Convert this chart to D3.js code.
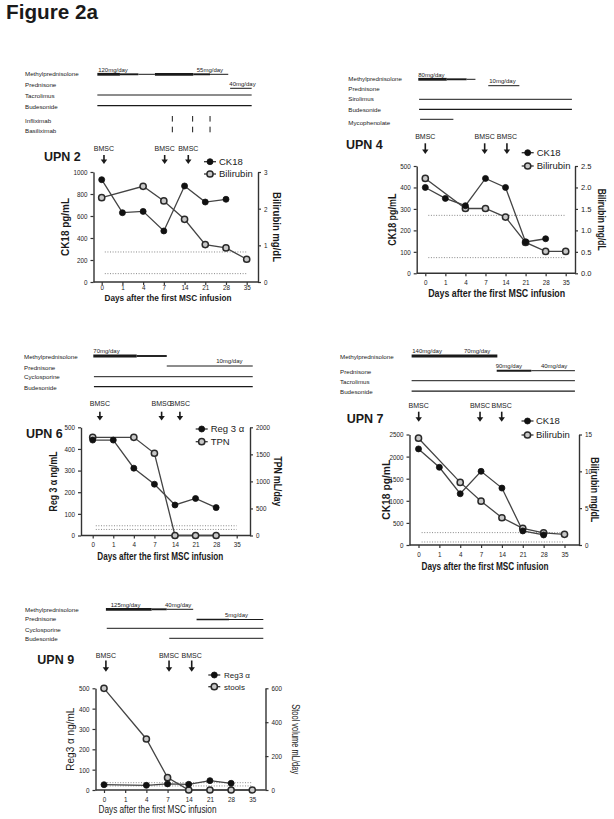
<!DOCTYPE html>
<html><head><meta charset="utf-8">
<script src="https://cdn.jsdelivr.net/npm/d3@7/dist/d3.min.js"></script>
<style>body{margin:0;background:#fff} svg{display:block;font-family:"Liberation Sans",Arial,sans-serif}</style>
</head><body><svg id="c" width="614" height="819"></svg>
<script>
// ---------- shared categories ----------
const days = ["0","1","4","7","14","21","28","35"];

// ---------- UPN 2 ----------
const upn2CK18 = [930, 630, 642, 464, 873, 727, 752, null];
const upn2Bilirubin = [2.3, null, 2.61, 2.21, 1.71, 1.02, 0.93, 0.62];
const upn2Normal = [273, 76];
const upn2LeftTicks = [0, 200, 400, 600, 800, 1000];
const upn2RightTicks = [0, 1, 2, 3];
const upn2Drugs = ["Methylprednisolone", "Prednisone", "Tacrolimus", "Budesonide", "Infliximab", "Basiliximab"];
// [row, fromDayIndex, toDayIndex, doseLevel]
const upn2Bars = [[0,-0.21,0.88,3],[0,0.88,1.77,2],[0,1.77,2.57,1],[0,2.57,4.42,3],[0,4.42,5.23,2],[0,5.23,6.11,1],[1,6.2,7.24,1],[2,-0.21,7.24,1],[3,-0.21,7.24,1.3]];
const upn2Doses = [[0,-0.17,"120mg/day"],[0,4.59,"55mg/day"],[1,6.16,"40mg/day"]];
const upn2Marks = [[4,3.41],[4,4.39],[4,5.23],[5,3.41],[5,4.39],[5,5.23]];
const upn2BMSC = [0.11, 3.04, 4.18];

// ---------- UPN 4 ----------
const upn4CK18 = [400, 349, 315, 442, 400, 146, 161, null];
const upn4Bilirubin = [2.21, null, 1.51, 1.51, 1.31, 0.72, 0.51, 0.51];
const upn4Normal = [270, 73];
const upn4LeftTicks = [0, 100, 200, 300, 400, 500];
const upn4RightTicks = [0, 0.5, 1, 1.5, 2, 2.5];
const upn4Drugs = ["Methylprednisolone", "Prednisone", "Sirolimus", "Budesonide", "Mycophenolate"];
const upn4Bars = [[0,-0.35,1.07,3],[0,1.07,2.06,2],[0,2.06,2.5,1],[1,3.14,4.69,1],[2,-0.31,7.31,1],[3,-0.31,7.31,1.3],[4,-0.26,1.4,1]];
const upn4Doses = [[0,-0.35,"80mg/day"],[1,3.19,"10mg/day"]];
const upn4BMSC = [0.0, 2.96, 4.07];

// ---------- UPN 6 ----------
const upn6Reg3 = [441, 441, 311, 237, 141, 171, 129, null];
const upn6TPN = [1815, null, 1815, 1520, 0, 0, 0, null];
const upn6Normal = [45, 28];
const upn6LeftTicks = [0, 100, 200, 300, 400, 500];
const upn6RightTicks = [0, 500, 1000, 1500, 2000];
const upn6Drugs = ["Methylprednisolone", "Prednisone", "Cyclosporine", "Budesonide"];
const upn6Bars = [[0,0.03,2.14,3],[0,2.14,3.6,2],[1,3.6,7.78,1],[2,0.06,7.78,1],[3,0.06,7.78,1.3]];
const upn6Doses = [[0,0.03,"70mg/day"],[1,6.0,"10mg/day"]];
const upn6BMSC = [0.35, 3.35, 4.24];

// ---------- UPN 7 ----------
const upn7CK18 = [2174, 1758, 1159, 1667, 1288, 318, 227, null];
const upn7Bilirubin = [14.5, null, 8.5, 5.95, 3.7, 2.27, 1.64, 1.45];
const upn7Normal = [280, 68];
const upn7LeftTicks = [0, 500, 1000, 1500, 2000, 2500];
const upn7RightTicks = [0, 5, 10, 15];
const upn7Drugs = ["Methylprednisolone", "Prednisone", "Tacrolimus", "Budesonide"];
const upn7Bars = [[0,-0.33,3.78,3],[1,3.75,5.41,2],[1,5.41,7.5,1],[2,-0.33,7.5,1],[3,-0.33,7.5,1.3]];
const upn7Doses = [[0,-0.3,"140mg/day"],[0,2.18,"70mg/day"],[1,3.7,"90mg/day"],[1,5.87,"40mg/day"]];
const upn7BMSC = [0.01, 2.95, 3.99];

// ---------- UPN 9 ----------
const upn9Reg3 = [26, null, 23, 30, 28, 46, 33, null];
const upn9Stools = [600, null, 301, 73, 0, 0, 0, 0];
const upn9Normal = [36, 20];
const upn9LeftTicks = [0, 100, 200, 300, 400, 500];
const upn9RightTicks = [0, 200, 400, 600];
const upn9Drugs = ["Methylprednisolone", "Prednisone", "Cyclosporine", "Budesonide"];
const upn9Bars = [[0,0.09,2.25,3],[0,2.25,2.96,2],[0,2.96,4.21,1],[1,4.37,5.9,1.5],[1,5.9,7.52,1],[2,0.13,7.52,1],[3,3.08,7.52,1]];
const upn9Doses = [[0,0.32,"125mg/day"],[0,2.88,"40mg/day"],[1,5.71,"5mg/day"]];
const upn9BMSC = [0.09, 3.07, 4.14];

const xTitleText = "Days after the first MSC infusion";

const panels = [
 {name:"UPN 2", drugs:upn2Drugs, bars:upn2Bars, doses:upn2Doses, marks:upn2Marks, bmsc:upn2BMSC,
  s1:upn2CK18, s2:upn2Bilirubin, s1Name:"CK18", s2Name:"Bilirubin", normal:upn2Normal,
  leftTicks:upn2LeftTicks, rightTicks:upn2RightTicks, rightFmt:d3.format("d"),
  leftTitle:"CK18 pg/mL", rightTitle:"Bilirubin mg/dL", bold:true,
  L:{x0:101.7,x35:246.7,xL:93.5,xR:258,yT:172,yB:282,labelX:25,labelY:[74.3,85,96.3,106.7,120.7,131],
     barY:[74.3,88.3,95,105.7,118.8,129.5],lt:{x:65,len:58},rt:{x:276.7,len:70},xt:{cx:168,y:300.5,len:127,fs:9},
     bm:{ty:151,a0:155,a1:164},upn:{x:44,y:161},lg:{x:210,y1:161.7,y2:174,tx:219,fs:9.5},tickPad:0}},
 {name:"UPN 4", drugs:upn4Drugs, bars:upn4Bars, doses:upn4Doses, marks:[], bmsc:upn4BMSC,
  s1:upn4CK18, s2:upn4Bilirubin, s1Name:"CK18", s2Name:"Bilirubin", normal:upn4Normal,
  leftTicks:upn4LeftTicks, rightTicks:upn4RightTicks, rightFmt:d3.format(".1f"),
  leftTitle:"CK18 pg/mL", rightTitle:"Bilirubin mg/dL", bold:true,
  L:{x0:425.3,x35:565.7,xL:416.7,xR:575,yT:166,yB:273.3,labelX:348.3,labelY:[79,89.3,99.3,110,123.3],
     barY:[79.3,85.7,99.3,109.3,119.3],lt:{x:392.7,len:52},rt:{x:601.5,len:62},xt:{cx:496.7,y:297,len:137,fs:10},
     bm:{ty:139.3,a0:143.3,a1:154},upn:{x:346,y:149},lg:{x:527.7,y1:152.7,y2:166,tx:536.7,fs:9.5},tickPad:3.5}},
 {name:"UPN 6", drugs:upn6Drugs, bars:upn6Bars, doses:upn6Doses, marks:[], bmsc:upn6BMSC,
  s1:upn6Reg3, s2:upn6TPN, s1Name:"Reg 3 α", s2Name:"TPN", normal:upn6Normal,
  leftTicks:upn6LeftTicks, rightTicks:upn6RightTicks, rightFmt:d3.format("d"),
  leftTitle:"Reg 3 α ng/mL", rightTitle:"TPN mL/day", bold:true,
  L:{x0:92.7,x35:236.7,xL:81,xR:250,yT:427.3,yB:535.5,labelX:24,labelY:[357.3,367.7,377.3,388.3],
     barY:[356,366,376.7,386.7],lt:{x:53.3,len:60},rt:{x:277.5,len:50},xt:{cx:160.3,y:559.5,len:126,fs:10},
     bm:{ty:406,a0:411.7,a1:420.5},upn:{x:26,y:438.3},lg:{x:201.7,y1:429,y2:441.7,tx:210.7,fs:9.5},tickPad:3.5}},
 {name:"UPN 7", drugs:upn7Drugs, bars:upn7Bars, doses:upn7Doses, marks:[], bmsc:upn7BMSC,
  s1:upn7CK18, s2:upn7Bilirubin, s1Name:"CK18", s2Name:"Bilirubin", normal:upn7Normal,
  leftTicks:upn7LeftTicks, rightTicks:upn7RightTicks, rightFmt:d3.format("d"),
  leftTitle:"CK18 pg/mL", rightTitle:"Bilirubin mg/dL", bold:true,
  L:{x0:418.5,x35:564.5,xL:409.5,xR:579,yT:434.5,yB:545,labelX:340,labelY:[357.3,372.3,381.7,392],
     barY:[356,370.7,380.7,391],lt:{x:386,len:60},rt:{x:594,len:65},xt:{cx:485,y:569.5,len:127,fs:10},
     bm:{ty:408,a0:411.7,a1:421.7},upn:{x:346.7,y:423.3},lg:{x:527.5,y1:421,y2:435,tx:536,fs:9.5},tickPad:3.5}},
 {name:"UPN 9", drugs:upn9Drugs, bars:upn9Bars, doses:upn9Doses, marks:[], bmsc:upn9BMSC,
  s1:upn9Reg3, s2:upn9Stools, s1Name:"Reg3   α", s2Name:"stools", normal:upn9Normal,
  leftTicks:upn9LeftTicks, rightTicks:upn9RightTicks, rightFmt:d3.format("d"),
  leftTitle:"Reg3  α  ng/mL", rightTitle:"Stool volume mL/day", bold:false,
  L:{x0:104,x35:252.3,xL:95.5,xR:265.5,yT:688.3,yB:790,labelX:25,labelY:[610,619.3,630,639],
     barY:[609.3,619.5,628.3,638.3],lt:{x:70,len:63},rt:{x:295,len:70},xt:{cx:157.5,y:812.5,len:118,fs:10},
     bm:{ty:658.3,a0:660.5,a1:671.7},upn:{x:37.3,y:664},lg:{x:214.3,y1:675,y2:686.7,tx:224,fs:8},tickPad:4}}
];

const svg = d3.select("#c");
const INK = "#1a1a1a";
svg.append("text").attr("x",6).attr("y",19).attr("font-size",20).attr("font-weight","bold")
   .attr("fill",INK).attr("textLength",92).attr("lengthAdjust","spacingAndGlyphs").text("Figure 2a");

function styleAxis(sel){
  sel.select(".domain").attr("stroke","#333").attr("stroke-width",1.4);
  sel.selectAll(".tick line").attr("stroke","#333").attr("stroke-width",1.2);
  sel.selectAll(".tick text").attr("font-size",7.5).attr("fill","#222")
    .attr("font-family","'Liberation Sans',Arial,sans-serif")
    .each(function(){ const t=d3.select(this); t.attr("textLength", t.text().length*3.5).attr("lengthAdjust","spacingAndGlyphs"); });
  sel.attr("font-family",null).attr("font-size",null);
}

function drawPanel(P){
  const L = P.L;
  const g = svg.append("g");
  const x = d3.scalePoint().domain(days).range([L.x0, L.x35]);
  const idx = d3.scaleLinear().domain([0, days.length-1]).range([L.x0, L.x35]);
  const yL = d3.scaleLinear().domain([0, d3.max(P.leftTicks)]).range([L.yB, L.yT]);
  const yR = d3.scaleLinear().domain([0, d3.max(P.rightTicks)]).range([L.yB, L.yT]);

  // treatment rows
  g.selectAll("text.drug").data(P.drugs).join("text").attr("class","drug")
    .attr("x",L.labelX).attr("y",(d,i)=>L.labelY[i]+2).attr("font-size",6.2).attr("fill",INK).text(d=>d);
  const doseW = d => d>=3 ? 2.8 : d>=2 ? 1.9 : d>=1.5 ? 1.5 : d>=1.3 ? 1.25 : 1;
  g.selectAll("line.bar").data(P.bars).join("line").attr("class","bar")
    .attr("x1",d=>idx(d[1])).attr("x2",d=>idx(d[2]))
    .attr("y1",d=>L.barY[d[0]]).attr("y2",d=>L.barY[d[0]])
    .attr("stroke",INK).attr("stroke-width",d=>doseW(d[3]));
  g.selectAll("text.dose").data(P.doses).join("text").attr("class","dose")
    .attr("x",d=>idx(d[1])).attr("y",d=>L.barY[d[0]]-2.6).attr("font-size",6).attr("fill",INK).text(d=>d[2]);
  g.selectAll("line.mark").data(P.marks).join("line").attr("class","mark")
    .attr("x1",d=>idx(d[1])).attr("x2",d=>idx(d[1]))
    .attr("y1",d=>L.barY[d[0]]-2.8).attr("y2",d=>L.barY[d[0]]+2.8)
    .attr("stroke",INK).attr("stroke-width",1);

  // BMSC arrows
  const bm = g.selectAll("g.bm").data(P.bmsc).join("g").attr("class","bm")
    .attr("transform",d=>`translate(${idx(d)},0)`);
  bm.append("text").attr("y",L.bm.ty).attr("text-anchor","middle").attr("font-size",7).attr("fill",INK).text("BMSC");
  bm.append("line").attr("x1",0).attr("x2",0).attr("y1",L.bm.a0).attr("y2",L.bm.a1-3)
    .attr("stroke",INK).attr("stroke-width",1.6);
  bm.append("path").attr("d",`M-3.2,${L.bm.a1-4.5}L3.2,${L.bm.a1-4.5}L0,${L.bm.a1}Z`).attr("fill",INK);

  // UPN label
  g.append("text").attr("x",L.upn.x).attr("y",L.upn.y).attr("font-size",12.5).attr("font-weight","bold")
    .attr("fill",INK).text(P.name);

  // normal-range dotted lines
  g.selectAll("line.norm").data(P.normal).join("line").attr("class","norm")
    .attr("x1",idx(0.15)).attr("x2",idx(7.0)).attr("y1",d=>yL(d)).attr("y2",d=>yL(d))
    .attr("stroke","#888").attr("stroke-width",1).attr("stroke-dasharray","1,1.6");

  // axes
  const ax1 = g.append("g").attr("transform",`translate(${L.xL},0)`)
    .call(d3.axisLeft(yL).tickValues(P.leftTicks).tickSize(3).tickSizeOuter(0).tickPadding(3).tickFormat(d3.format("d")));
  styleAxis(ax1);
  const ax2 = g.append("g").attr("transform",`translate(${L.xR},0)`)
    .call(d3.axisRight(yR).tickValues(P.rightTicks).tickSize(3).tickSizeOuter(0).tickPadding(3).tickFormat(P.rightFmt));
  styleAxis(ax2);
  const ax3 = g.append("g").attr("transform",`translate(0,${L.yB})`)
    .call(d3.axisBottom(x).tickSize(3).tickSizeOuter(0).tickPadding(L.tickPad));
  styleAxis(ax3);
  ax3.select(".domain").remove();
  g.append("line").attr("x1",L.xL).attr("x2",L.xR).attr("y1",L.yB).attr("y2",L.yB)
    .attr("stroke","#333").attr("stroke-width",1.4);

  // axis titles
  const fw = P.bold ? "bold" : "normal";
  const cy = (L.yT + L.yB)/2;
  g.append("text").attr("transform",`translate(${L.lt.x},${cy}) rotate(-90)`).attr("text-anchor","middle")
    .attr("dy","0.35em").attr("font-size",10).attr("font-weight",fw).attr("fill",INK)
    .attr("textLength",L.lt.len).attr("lengthAdjust","spacingAndGlyphs").text(P.leftTitle);
  g.append("text").attr("transform",`translate(${L.rt.x},${cy}) rotate(90)`).attr("text-anchor","middle")
    .attr("dy","0.35em").attr("font-size",10).attr("font-weight",fw).attr("fill",INK)
    .attr("textLength",L.rt.len).attr("lengthAdjust","spacingAndGlyphs").text(P.rightTitle);
  g.append("text").attr("x",L.xt.cx - L.xt.len/2).attr("y",L.xt.y).attr("font-size",L.xt.fs).attr("font-weight",fw)
    .attr("fill",INK).attr("textLength",L.xt.len).attr("lengthAdjust","spacingAndGlyphs").text(xTitleText);

  // series
  const pts = (arr) => days.map((d,i)=>({d, v:arr[i]})).filter(o=>o.v!=null);
  const p1 = pts(P.s1), p2 = pts(P.s2);
  const lineL = d3.line().x(o=>x(o.d)).y(o=>yL(o.v));
  const lineR = d3.line().x(o=>x(o.d)).y(o=>yR(o.v));
  g.append("path").datum(p2).attr("d",lineR).attr("fill","none").attr("stroke","#444").attr("stroke-width",1.3);
  g.append("path").datum(p1).attr("d",lineL).attr("fill","none").attr("stroke","#444").attr("stroke-width",1.3);
  g.selectAll("circle.s2").data(p2).join("circle").attr("class","s2")
    .attr("cx",o=>x(o.d)).attr("cy",o=>yR(o.v)).attr("r",3.1)
    .attr("fill","#c8c8c8").attr("stroke","#2a2a2a").attr("stroke-width",1.5);
  g.selectAll("circle.s1").data(p1).join("circle").attr("class","s1")
    .attr("cx",o=>x(o.d)).attr("cy",o=>yL(o.v)).attr("r",3)
    .attr("fill","#111").attr("stroke","#111").attr("stroke-width",0.8);

  // legend
  const lg = [{name:P.s1Name, y:L.lg.y1, open:false},{name:P.s2Name, y:L.lg.y2, open:true}];
  const li = g.selectAll("g.lg").data(lg).join("g").attr("class","lg");
  li.append("line").attr("x1",L.lg.x-6).attr("x2",L.lg.x+6).attr("y1",d=>d.y).attr("y2",d=>d.y)
    .attr("stroke","#333").attr("stroke-width",1.3);
  li.append("circle").attr("cx",L.lg.x).attr("cy",d=>d.y).attr("r",d=>d.open?3.1:3)
    .attr("fill",d=>d.open?"#c8c8c8":"#111").attr("stroke",d=>d.open?"#2a2a2a":"#111")
    .attr("stroke-width",d=>d.open?1.5:0.8);
  li.append("text").attr("x",L.lg.tx).attr("y",d=>d.y).attr("dy","0.35em").attr("font-size",L.lg.fs)
    .attr("fill",INK).text(d=>d.name);
}

panels.forEach(drawPanel);
</script>
</body></html>
